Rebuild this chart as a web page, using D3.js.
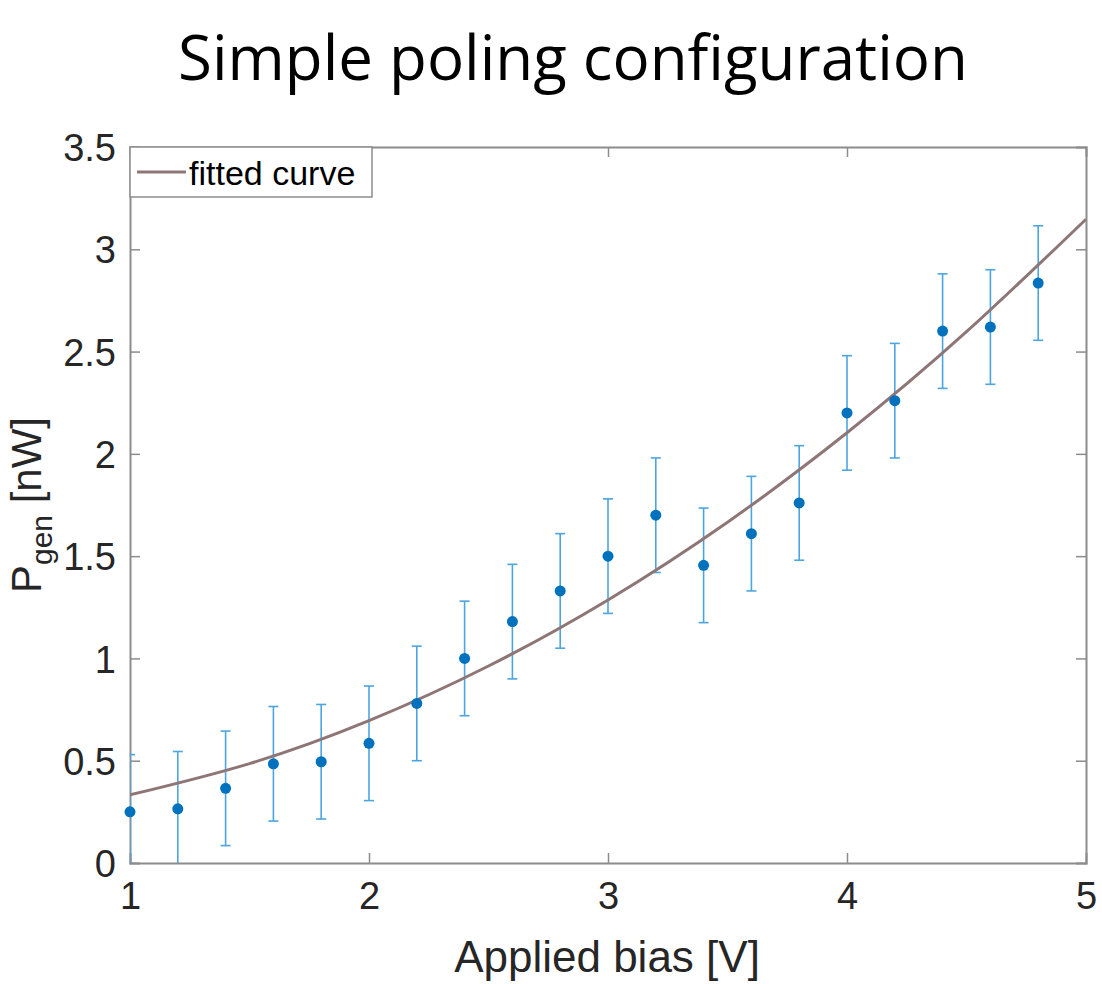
<!DOCTYPE html>
<html>
<head>
<meta charset="utf-8">
<script src="https://cdn.jsdelivr.net/npm/d3@7"></script>
<style>
  html, body { margin: 0; padding: 0; background: #fff; }
  svg { display: block; }
</style>
</head>
<body>
<svg id="chart" width="1102" height="984"></svg>
<script>
// ---- Data ----
const biasV = [1.0, 1.2, 1.4, 1.6, 1.8, 2.0, 2.2, 2.4, 2.6, 2.8, 3.0, 3.2, 3.4, 3.6, 3.8, 4.0, 4.2, 4.4, 4.6, 4.8];
const powerNW = [0.25, 0.265, 0.365, 0.485, 0.495, 0.585, 0.78, 1.0, 1.18, 1.33, 1.50, 1.70, 1.455, 1.61, 1.76, 2.20, 2.26, 2.60, 2.62, 2.835];
const errNW = [0.28, 0.28, 0.28, 0.28, 0.28, 0.28, 0.28, 0.28, 0.28, 0.28, 0.28, 0.28, 0.28, 0.28, 0.28, 0.28, 0.28, 0.28, 0.28, 0.28];
const fitX = [1.0, 1.5, 2.0, 2.5, 3.0, 3.5, 4.0, 4.5, 5.0];
const fitY = [0.333, 0.486, 0.696, 0.963, 1.286, 1.666, 2.103, 2.597, 3.147];
const xTicks = [1, 2, 3, 4, 5];
const yTicks = [0, 0.5, 1, 1.5, 2, 2.5, 3, 3.5];
const titleText = "Simple poling configuration";
const xLabel = "Applied bias [V]";
const legendLabel = "fitted curve";

// ---- Layout ----
const svg = d3.select("#chart");
const L = 130, R = 1086, T = 147, B = 863;
const x = d3.scaleLinear().domain([1, 5]).range([L, R]);
const y = d3.scaleLinear().domain([0, 3.5]).range([B, T]);

const axisColor = "#8c8c8c";
const tickFont = "'Liberation Sans', Arial, sans-serif";

// Title
const title = svg.append("text")
  .attr("x", 573).attr("y", 80)
  .attr("text-anchor", "middle")
  .attr("font-family", "'Open Sans', 'Noto Sans', sans-serif")
  .attr("font-size", 60)
  .attr("fill", "#000")
  .text(titleText);
const tw = title.node().getComputedTextLength();
title.attr("font-size", 60 * 790 / tw);

// clip
svg.append("clipPath").attr("id", "clip")
  .append("rect").attr("x", L).attr("y", T).attr("width", R - L).attr("height", B - T);

// Axes (ticks inside, box on)
const tickLen = 10;
const gBottom = svg.append("g").attr("transform", `translate(0,${B})`)
  .call(d3.axisBottom(x).tickValues(xTicks).tickSize(-tickLen).tickPadding(14).tickFormat(d3.format("d")));
const gTop = svg.append("g").attr("transform", `translate(0,${T})`)
  .call(d3.axisTop(x).tickValues(xTicks).tickSize(-tickLen).tickFormat(""));
const gLeft = svg.append("g").attr("transform", `translate(${L},0)`)
  .call(d3.axisLeft(y).tickValues(yTicks).tickSize(-tickLen).tickPadding(14).tickFormat(d => d3.format("")(d)));
const gRight = svg.append("g").attr("transform", `translate(${R},0)`)
  .call(d3.axisRight(y).tickValues(yTicks).tickSize(-tickLen).tickFormat(""));

[gBottom, gTop, gLeft, gRight].forEach(g => {
  g.select(".domain").attr("stroke", axisColor).attr("stroke-width", 2);
  g.selectAll(".tick line").attr("stroke", axisColor).attr("stroke-width", 1.5);
  g.selectAll(".tick text").attr("fill", "#262626")
    .attr("font-family", tickFont).attr("font-size", 38);
});
gBottom.selectAll(".tick text").attr("dy", "0.85em");
gLeft.selectAll(".tick text").attr("dy", "0.36em");
gTop.selectAll(".tick line").filter(d => d === 1 || d === 5).remove();
gRight.selectAll(".tick line").filter(d => d === 0 || d === 3.5).remove();
gBottom.selectAll(".tick line").filter(d => d === 1 || d === 5).remove();
gLeft.selectAll(".tick line").filter(d => d === 0 || d === 3.5).remove();

// Error bars
const errColor = "#4ca5df";
const plot = svg.append("g").attr("clip-path", "url(#clip)");
const data = biasV.map((v, i) => ({ x: v, y: powerNW[i], e: errNW[i] }));
const cap = 5;
const eb = plot.append("g").attr("stroke", errColor).attr("stroke-width", 1.6).attr("fill", "none");
eb.selectAll("line.v").data(data).join("line").attr("class", "v")
  .attr("x1", d => x(d.x)).attr("x2", d => x(d.x))
  .attr("y1", d => y(d.y - d.e)).attr("y2", d => y(d.y + d.e));
eb.selectAll("line.t").data(data).join("line").attr("class", "t")
  .attr("x1", d => x(d.x) - cap).attr("x2", d => x(d.x) + cap)
  .attr("y1", d => y(d.y + d.e)).attr("y2", d => y(d.y + d.e));
eb.selectAll("line.b").data(data).join("line").attr("class", "b")
  .attr("x1", d => x(d.x) - cap).attr("x2", d => x(d.x) + cap)
  .attr("y1", d => y(d.y - d.e)).attr("y2", d => y(d.y - d.e));

// Fitted curve
const fitColor = "#8f7676";
const line = d3.line().x(d => x(d[0])).y(d => y(d[1])).curve(d3.curveNatural);
plot.append("path")
  .datum(fitX.map((v, i) => [v, fitY[i]]))
  .attr("d", line)
  .attr("fill", "none")
  .attr("stroke", fitColor)
  .attr("stroke-width", 3);

// Points
svg.append("g").selectAll("circle").data(data).join("circle")
  .attr("cx", d => x(d.x)).attr("cy", d => y(d.y))
  .attr("r", 5.5).attr("fill", "#0072bd");

// Legend
const lg = svg.append("g");
lg.append("rect").attr("x", L).attr("y", T).attr("width", 242).attr("height", 50)
  .attr("fill", "#fff").attr("stroke", axisColor).attr("stroke-width", 1.5);
lg.append("line").attr("x1", 137).attr("x2", 186).attr("y1", 172).attr("y2", 172)
  .attr("stroke", fitColor).attr("stroke-width", 3);
lg.append("text").attr("x", 189).attr("y", 185)
  .attr("font-family", tickFont).attr("font-size", 34).attr("fill", "#000")
  .text(legendLabel);

// X label
svg.append("text").attr("x", 607).attr("y", 972)
  .attr("text-anchor", "middle")
  .attr("font-family", tickFont).attr("font-size", 44).attr("fill", "#262626")
  .text(xLabel);

// Y label with subscript
const yl = svg.append("text")
  .attr("transform", "translate(41,505) rotate(-90)")
  .attr("text-anchor", "middle")
  .attr("font-family", tickFont).attr("font-size", 42).attr("fill", "#262626");
yl.append("tspan").text("P");
yl.append("tspan").attr("font-size", 30).attr("dy", 11).text("gen");
yl.append("tspan").attr("dy", -11).text(" [nW]");
</script>
</body>
</html>
